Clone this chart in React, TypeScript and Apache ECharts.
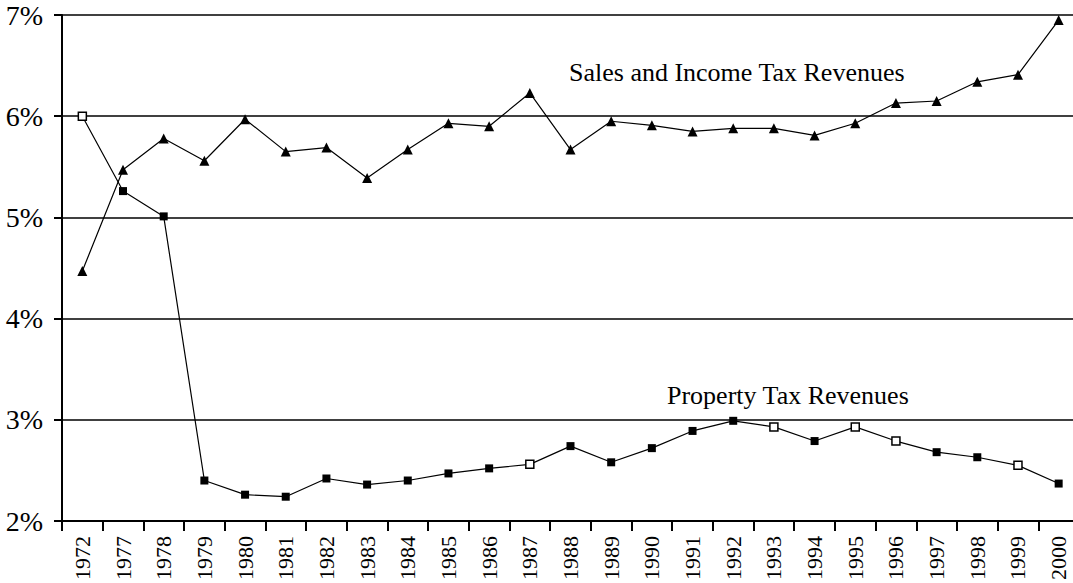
import React, { useEffect, useRef } from "react";
import * as echarts from "echarts";

const years = ["1972","1977","1978","1979","1980","1981","1982","1983","1984","1985","1986","1987","1988","1989","1990","1991","1992","1993","1994","1995","1996","1997","1998","1999","2000"];
const salesIncome = [4.47,5.47,5.78,5.56,5.97,5.65,5.69,5.39,5.67,5.93,5.90,6.23,5.67,5.95,5.91,5.85,5.88,5.88,5.81,5.93,6.13,6.15,6.34,6.41,6.95];
const property = [6.00,5.26,5.01,2.40,2.26,2.24,2.42,2.36,2.40,2.47,2.52,2.56,2.74,2.58,2.72,2.89,2.99,2.93,2.79,2.93,2.79,2.68,2.63,2.55,2.37];
const hollowPropertyYears = ["1972","1987","1993","1995","1996","1999"];
const yTicks = { min: 2, max: 7, interval: 1 };
const salesLabel = "Sales and Income Tax Revenues";
const propertyLabel = "Property Tax Revenues";

const FONT = "Liberation Serif";

export default function App() {
  const ref = useRef<HTMLDivElement>(null);
  useEffect(() => {
    if (!ref.current) return;
    const chart = echarts.init(ref.current, null, { renderer: "svg" });
    const propData = property.map((v, i) =>
      hollowPropertyYears.includes(years[i])
        ? { value: v, itemStyle: { color: "#fff", borderColor: "#000", borderWidth: 1.5 } }
        : v
    );
    chart.setOption({
      animation: false,
      backgroundColor: "#fff",
      textStyle: { fontFamily: FONT },
      grid: { left: 62, right: 0, top: 15, bottom: 62, containLabel: false },
      xAxis: {
        type: "category",
        data: years,
        boundaryGap: true,
        axisLine: { lineStyle: { color: "#000", width: 2 } },
        axisTick: { show: true, length: 10, interval: 0, lineStyle: { color: "#000", width: 2 } },
        axisLabel: { rotate: 90, interval: 0, fontSize: 22, color: "#000", fontFamily: FONT, margin: 15 },
      },
      yAxis: {
        type: "value",
        min: yTicks.min,
        max: yTicks.max,
        interval: yTicks.interval,
        axisLine: { show: true, lineStyle: { color: "#000", width: 2 } },
        axisTick: { show: true, length: 8, lineStyle: { color: "#000", width: 2 } },
        axisLabel: { formatter: "{value}%", fontSize: 28, color: "#000", fontFamily: FONT, margin: 19 },
        splitLine: { show: true, lineStyle: { color: "#000", width: 1.5 } },
      },
      series: [
        {
          name: salesLabel,
          type: "line",
          data: salesIncome,
          symbol: "triangle",
          symbolSize: 10,
          lineStyle: { color: "#000", width: 1.2 },
          itemStyle: { color: "#000" },
        },
        {
          name: propertyLabel,
          type: "line",
          data: propData,
          symbol: "rect",
          symbolSize: 8,
          lineStyle: { color: "#000", width: 1.2 },
          itemStyle: { color: "#000" },
        },
      ],
      graphic: [
        { type: "text", x: 569, y: 72, style: { text: salesLabel, fontSize: 26, fontFamily: FONT, fill: "#000", align: "left", verticalAlign: "middle" } },
        { type: "text", x: 667, y: 395, style: { text: propertyLabel, fontSize: 26, fontFamily: FONT, fill: "#000", align: "left", verticalAlign: "middle" } },
      ],
    });
    return () => chart.dispose();
  }, []);
  return (
    <div
      ref={ref}
      style={{ position: "absolute", left: 0, top: 0, width: 1079, height: 583 }}
    />
  );
}
